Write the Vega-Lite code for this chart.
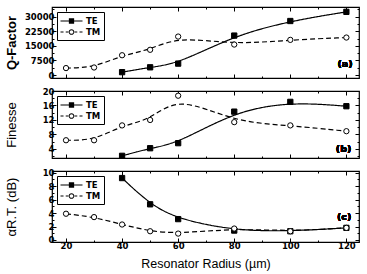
{
  "$schema": "https://vega.github.io/schema/vega-lite/v6.json",
  "padding": {"left": 4, "top": 5, "right": 4, "bottom": 0},
  "spacing": 13,
  "bounds": "flush",
  "config": {
    "view": {"stroke": "black", "strokeWidth": 1.2},
    "axis": {
      "domain": false,
      "grid": false,
      "tickColor": "black",
      "labelColor": "black",
      "labelFont": "DejaVu Sans",
      "labelFontWeight": "bold",
      "labelFontSize": 8.5,
      "titleColor": "black",
      "titleFont": "Liberation Sans",
      "titleFontWeight": "normal",
      "titleFontSize": 13
    },
    "legend": {
      "orient": "top-left",
      "offset": 5,
      "strokeColor": "black",
      "padding": 3,
      "rowPadding": 0,
      "labelFont": "DejaVu Sans",
      "labelFontWeight": "bold",
      "labelFontSize": 8.5,
      "labelColor": "black",
      "labelOffset": 14,
      "symbolSize": 121,
      "symbolStrokeColor": "black",
      "symbolStrokeWidth": 1
    }
  },
  "datasets": {
    "resonator": [
      {"radius": 40, "mode": "TE", "q": 1500, "finesse": 2.1, "loss": 9.2},
      {"radius": 50, "mode": "TE", "q": 4000, "finesse": 4.2, "loss": 5.3},
      {"radius": 60, "mode": "TE", "q": 5900, "finesse": 5.6, "loss": 3.1},
      {"radius": 80, "mode": "TE", "q": 20300, "finesse": 14.3, "loss": 1.4},
      {"radius": 100, "mode": "TE", "q": 27800, "finesse": 17.0, "loss": 1.3},
      {"radius": 120, "mode": "TE", "q": 32500, "finesse": 15.8, "loss": 1.8},
      {"radius": 20, "mode": "TM", "q": 3600, "finesse": 6.4, "loss": 3.9},
      {"radius": 30, "mode": "TM", "q": 3900, "finesse": 6.4, "loss": 3.4},
      {"radius": 40, "mode": "TM", "q": 10200, "finesse": 10.5, "loss": 2.3},
      {"radius": 50, "mode": "TM", "q": 13000, "finesse": 12.0, "loss": 1.3},
      {"radius": 60, "mode": "TM", "q": 19800, "finesse": 18.7, "loss": 0.95},
      {"radius": 80, "mode": "TM", "q": 15700, "finesse": 11.4, "loss": 1.7},
      {"radius": 100, "mode": "TM", "q": 18100, "finesse": 10.5, "loss": 1.3},
      {"radius": 120, "mode": "TM", "q": 19300, "finesse": 8.9, "loss": 1.8}
    ]
  },
  "resolve": {
    "scale": {"shape": "independent", "fill": "independent", "strokeDash": "independent"},
    "legend": {"shape": "independent", "fill": "independent", "strokeDash": "independent"}
  },
  "vconcat": [
    {
      "width": 307,
      "height": 71,
      "data": {"name": "resonator"},
      "resolve": {"axis": {"x": "independent", "y": "independent"}},
      "layer": [
        {
          "mark": {"type": "line", "interpolate": "basis", "color": "black", "strokeWidth": 1.2},
          "encoding": {
            "x": {"field": "radius", "type": "quantitative",
                  "scale": {"domain": [15, 124.5], "nice": false, "zero": false},
                  "axis": {"orient": "bottom", "values": [20, 30, 40, 50, 60, 70, 80, 90, 100, 110, 120], "labels": false, "title": null,
                           "tickSize": {"condition": {"test": "datum.value % 20 === 0", "value": -4}, "value": -2}}},
            "y": {"field": "q", "type": "quantitative",
                  "scale": {"domain": [-1500, 35000], "nice": false, "zero": false},
                  "axis": {"orient": "left", "values": [0, 3750, 7500, 11250, 15000, 18750, 22500, 26250, 30000, 33750], "format": "d",
                           "labelExpr": "datum.value % 7500 === 0 ? datum.label : ''",
                           "tickSize": {"condition": {"test": "datum.value % 7500 === 0", "value": -4}, "value": -2},
                           "title": "Q-Factor", "titleFontWeight": "bold", "minExtent": 31, "maxExtent": 31, "titlePadding": 3}},
            "strokeDash": {"field": "mode", "type": "nominal", "scale": {"domain": ["TE", "TM"], "range": [[1, 0], [5, 3]]}, "legend": {"title": null}}
          }
        },
        {
          "transform": [{"filter": "datum.mode === 'TE'"}],
          "mark": {"type": "point", "shape": "square", "fill": "black", "stroke": "black", "strokeWidth": 1, "opacity": 1, "size": 28},
          "encoding": {
            "x": {"field": "radius", "type": "quantitative",
                  "axis": {"orient": "top", "values": [20, 30, 40, 50, 60, 70, 80, 90, 100, 110, 120], "labels": false, "title": null,
                           "tickSize": {"condition": {"test": "datum.value % 20 === 0", "value": -4}, "value": -2}}},
            "y": {"field": "q", "type": "quantitative",
                  "axis": {"orient": "right", "values": [0, 3750, 7500, 11250, 15000, 18750, 22500, 26250, 30000, 33750], "labels": false, "title": null,
                           "tickSize": {"condition": {"test": "datum.value % 7500 === 0", "value": -4}, "value": -2}}}
          }
        },
        {
          "transform": [{"filter": "datum.mode === 'TM'"}],
          "mark": {"type": "point", "shape": "circle", "fill": "white", "stroke": "black", "strokeWidth": 1, "opacity": 1, "size": 28},
          "encoding": {
            "x": {"field": "radius", "type": "quantitative", "axis": null},
            "y": {"field": "q", "type": "quantitative", "axis": null}
          }
        },
        {
          "transform": [{"filter": "datum.radius < 0"}],
          "mark": {"type": "point", "stroke": "black", "strokeWidth": 1, "opacity": 1, "size": 121},
          "encoding": {
            "x": {"field": "radius", "type": "quantitative", "axis": null},
            "y": {"field": "q", "type": "quantitative", "axis": null},
            "shape": {"field": "mode", "type": "nominal", "legend": {"title": null},
                      "scale": {"domain": ["TE", "TM"], "range": [
                        "M-1,-0.1H0.52V0.1H-1Z M1.48,-0.1H3V0.1H1.48Z M0.52,-0.48H1.48V0.48H0.52Z",
                        "M-1,-0.1H-0.45V0.1H-1Z M-0.05,-0.1H0.42V0.1H-0.05Z M1.58,-0.1H2.05V0.1H1.58Z M2.45,-0.1H3V0.1H2.45Z M1.52,0A0.52,0.52 0 1 1 0.48,0A0.52,0.52 0 1 1 1.52,0Z M1.34,0A0.34,0.34 0 1 0 0.66,0A0.34,0.34 0 1 0 1.34,0Z"]}},
            "fill": {"field": "mode", "type": "nominal", "legend": {"title": null},
                     "scale": {"domain": ["TE", "TM"], "range": ["black", "black"]}}
          }
        },
        {
          "mark": {"type": "text", "font": "DejaVu Sans", "fontWeight": "bold", "fontSize": 9.5, "color": "black"},
          "encoding": {
            "x": {"datum": 119.5, "type": "quantitative", "axis": null},
            "y": {"datum": 5900, "type": "quantitative", "axis": null},
            "text": {"value": "(a)"}
          }
        }
      ]
    },
    {
      "width": 307,
      "height": 67,
      "data": {"name": "resonator"},
      "resolve": {"axis": {"x": "independent", "y": "independent"}},
      "layer": [
        {
          "mark": {"type": "line", "interpolate": "basis", "color": "black", "strokeWidth": 1.2},
          "encoding": {
            "x": {"field": "radius", "type": "quantitative",
                  "scale": {"domain": [15, 124.5], "nice": false, "zero": false},
                  "axis": {"orient": "bottom", "values": [20, 30, 40, 50, 60, 70, 80, 90, 100, 110, 120], "labels": false, "title": null,
                           "tickSize": {"condition": {"test": "datum.value % 20 === 0", "value": -4}, "value": -2}}},
            "y": {"field": "finesse", "type": "quantitative",
                  "scale": {"domain": [1.5, 20], "nice": false, "zero": false},
                  "axis": {"orient": "left", "values": [2, 4, 6, 8, 10, 12, 14, 16, 18, 20],
                           "labelExpr": "datum.value % 4 === 0 ? datum.label : ''",
                           "tickSize": {"condition": {"test": "datum.value % 4 === 0", "value": -4}, "value": -2},
                           "title": "Finesse", "minExtent": 31, "maxExtent": 31, "titlePadding": 3}},
            "strokeDash": {"field": "mode", "type": "nominal", "scale": {"domain": ["TE", "TM"], "range": [[1, 0], [5, 3]]}, "legend": {"title": null}}
          }
        },
        {
          "transform": [{"filter": "datum.mode === 'TE'"}],
          "mark": {"type": "point", "shape": "square", "fill": "black", "stroke": "black", "strokeWidth": 1, "opacity": 1, "size": 28},
          "encoding": {
            "x": {"field": "radius", "type": "quantitative",
                  "axis": {"orient": "top", "values": [20, 30, 40, 50, 60, 70, 80, 90, 100, 110, 120], "labels": false, "title": null,
                           "tickSize": {"condition": {"test": "datum.value % 20 === 0", "value": -4}, "value": -2}}},
            "y": {"field": "finesse", "type": "quantitative",
                  "axis": {"orient": "right", "values": [2, 4, 6, 8, 10, 12, 14, 16, 18, 20], "labels": false, "title": null,
                           "tickSize": {"condition": {"test": "datum.value % 4 === 0", "value": -4}, "value": -2}}}
          }
        },
        {
          "transform": [{"filter": "datum.mode === 'TM'"}],
          "mark": {"type": "point", "shape": "circle", "fill": "white", "stroke": "black", "strokeWidth": 1, "opacity": 1, "size": 28},
          "encoding": {
            "x": {"field": "radius", "type": "quantitative", "axis": null},
            "y": {"field": "finesse", "type": "quantitative", "axis": null}
          }
        },
        {
          "transform": [{"filter": "datum.radius < 0"}],
          "mark": {"type": "point", "stroke": "black", "strokeWidth": 1, "opacity": 1, "size": 121},
          "encoding": {
            "x": {"field": "radius", "type": "quantitative", "axis": null},
            "y": {"field": "finesse", "type": "quantitative", "axis": null},
            "shape": {"field": "mode", "type": "nominal", "legend": {"title": null},
                      "scale": {"domain": ["TE", "TM"], "range": [
                        "M-1,-0.1H0.52V0.1H-1Z M1.48,-0.1H3V0.1H1.48Z M0.52,-0.48H1.48V0.48H0.52Z",
                        "M-1,-0.1H-0.45V0.1H-1Z M-0.05,-0.1H0.42V0.1H-0.05Z M1.58,-0.1H2.05V0.1H1.58Z M2.45,-0.1H3V0.1H2.45Z M1.52,0A0.52,0.52 0 1 1 0.48,0A0.52,0.52 0 1 1 1.52,0Z M1.34,0A0.34,0.34 0 1 0 0.66,0A0.34,0.34 0 1 0 1.34,0Z"]}},
            "fill": {"field": "mode", "type": "nominal", "legend": {"title": null},
                     "scale": {"domain": ["TE", "TM"], "range": ["black", "black"]}}
          }
        },
        {
          "mark": {"type": "text", "font": "DejaVu Sans", "fontWeight": "bold", "fontSize": 9.5, "color": "black"},
          "encoding": {
            "x": {"datum": 119, "type": "quantitative", "axis": null},
            "y": {"datum": 4.1, "type": "quantitative", "axis": null},
            "text": {"value": "(b)"}
          }
        }
      ]
    },
    {
      "width": 307,
      "height": 71,
      "data": {"name": "resonator"},
      "resolve": {"axis": {"x": "independent", "y": "independent"}},
      "layer": [
        {
          "mark": {"type": "line", "interpolate": "basis", "color": "black", "strokeWidth": 1.2},
          "encoding": {
            "x": {"field": "radius", "type": "quantitative",
                  "scale": {"domain": [15, 124.5], "nice": false, "zero": false},
                  "axis": {"orient": "bottom", "values": [20, 30, 40, 50, 60, 70, 80, 90, 100, 110, 120],
                           "labelExpr": "datum.value % 20 === 0 ? datum.label : ''", "labelPadding": 3,
                           "tickSize": {"condition": {"test": "datum.value % 20 === 0", "value": -4}, "value": -2},
                           "title": "Resonator Radius (µm)", "titlePadding": 8, "titleFontSize": 12.5}},
            "y": {"field": "loss", "type": "quantitative",
                  "scale": {"domain": [-0.3, 10.25], "nice": false, "zero": false},
                  "axis": {"orient": "left", "values": [0, 1, 2, 3, 4, 5, 6, 7, 8, 9, 10],
                           "labelExpr": "datum.value % 2 === 0 ? datum.label : ''",
                           "tickSize": {"condition": {"test": "datum.value % 2 === 0", "value": -4}, "value": -2},
                           "title": "αR.T. (dB)", "minExtent": 31, "maxExtent": 31, "titlePadding": 3}},
            "strokeDash": {"field": "mode", "type": "nominal", "scale": {"domain": ["TE", "TM"], "range": [[1, 0], [5, 3]]}, "legend": {"title": null}}
          }
        },
        {
          "transform": [{"filter": "datum.mode === 'TE'"}],
          "mark": {"type": "point", "shape": "square", "fill": "black", "stroke": "black", "strokeWidth": 1, "opacity": 1, "size": 28},
          "encoding": {
            "x": {"field": "radius", "type": "quantitative",
                  "axis": {"orient": "top", "values": [20, 30, 40, 50, 60, 70, 80, 90, 100, 110, 120], "labels": false, "title": null,
                           "tickSize": {"condition": {"test": "datum.value % 20 === 0", "value": -4}, "value": -2}}},
            "y": {"field": "loss", "type": "quantitative",
                  "axis": {"orient": "right", "values": [0, 1, 2, 3, 4, 5, 6, 7, 8, 9, 10], "labels": false, "title": null,
                           "tickSize": {"condition": {"test": "datum.value % 2 === 0", "value": -4}, "value": -2}}}
          }
        },
        {
          "transform": [{"filter": "datum.mode === 'TM'"}],
          "mark": {"type": "point", "shape": "circle", "fill": "white", "stroke": "black", "strokeWidth": 1, "opacity": 1, "size": 28},
          "encoding": {
            "x": {"field": "radius", "type": "quantitative", "axis": null},
            "y": {"field": "loss", "type": "quantitative", "axis": null}
          }
        },
        {
          "transform": [{"filter": "datum.radius < 0"}],
          "mark": {"type": "point", "stroke": "black", "strokeWidth": 1, "opacity": 1, "size": 121},
          "encoding": {
            "x": {"field": "radius", "type": "quantitative", "axis": null},
            "y": {"field": "loss", "type": "quantitative", "axis": null},
            "shape": {"field": "mode", "type": "nominal", "legend": {"title": null},
                      "scale": {"domain": ["TE", "TM"], "range": [
                        "M-1,-0.1H0.52V0.1H-1Z M1.48,-0.1H3V0.1H1.48Z M0.52,-0.48H1.48V0.48H0.52Z",
                        "M-1,-0.1H-0.45V0.1H-1Z M-0.05,-0.1H0.42V0.1H-0.05Z M1.58,-0.1H2.05V0.1H1.58Z M2.45,-0.1H3V0.1H2.45Z M1.52,0A0.52,0.52 0 1 1 0.48,0A0.52,0.52 0 1 1 1.52,0Z M1.34,0A0.34,0.34 0 1 0 0.66,0A0.34,0.34 0 1 0 1.34,0Z"]}},
            "fill": {"field": "mode", "type": "nominal", "legend": {"title": null},
                     "scale": {"domain": ["TE", "TM"], "range": ["black", "black"]}}
          }
        },
        {
          "mark": {"type": "text", "font": "DejaVu Sans", "fontWeight": "bold", "fontSize": 9.5, "color": "black"},
          "encoding": {
            "x": {"datum": 119.2, "type": "quantitative", "axis": null},
            "y": {"datum": 3.4, "type": "quantitative", "axis": null},
            "text": {"value": "(c)"}
          }
        }
      ]
    }
  ]
}
